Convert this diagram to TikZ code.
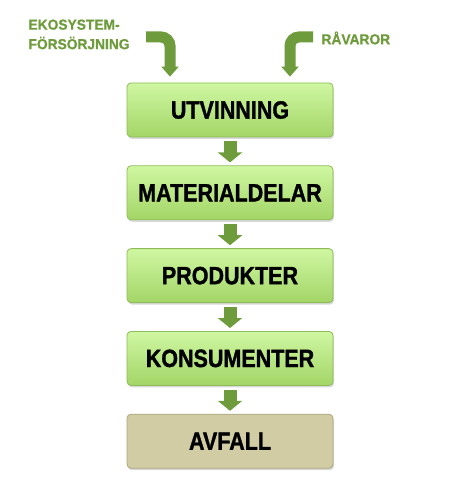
\documentclass[tikz,border=0pt]{standalone}
\usepackage{fontspec}
\setmainfont{Liberation Sans}
\newfontfamily\boxfont[FakeStretch=0.86, FakeBold=1.3]{Liberation Sans Bold}
\newfontfamily\labelfont[FakeStretch=0.95, FakeBold=0.8]{Liberation Sans Bold}
\usepackage{tikz}
\usetikzlibrary{arrows.meta, positioning, calc, shadows}
\definecolor{leafgreen}{HTML}{6E9C3C}
\definecolor{boxtop}{HTML}{CFF7A2}
\definecolor{boxbot}{HTML}{A3D567}
\definecolor{boxedge}{HTML}{8DBB58}
\definecolor{wastefill}{HTML}{D1CCA4}
\definecolor{wasteedge}{HTML}{ABA57D}

\begin{document}
\begin{tikzpicture}[
        x=1pt, y=-1pt,
        node distance=28pt,
        stage/.style={rectangle, rounded corners=4pt, draw=boxedge, line width=0.8pt,
            top color=boxtop, bottom color=boxbot, minimum width=206pt, minimum height=54pt,
            inner sep=0pt, font=\boxfont\fontsize{25}{25}\selectfont,
            drop shadow={shadow xshift=1pt, shadow yshift=-2pt, opacity=0.3}},
        waste/.style={stage, draw=wasteedge, top color=wastefill, bottom color=wastefill},
        flowarrow/.style={leafgreen, line width=13pt, shorten <=4pt, shorten >=3pt,
            -{Triangle[width=24pt, length=10pt]}},
        bentarrow/.style={leafgreen, line width=11pt, rounded corners=9pt,
            -{Triangle[width=17pt, length=10pt]}},
        input_label/.style={leafgreen, font=\labelfont\fontsize{14.5}{19.5}\selectfont, align=left}
    ]
        \useasboundingbox (0,0) rectangle (448,502);

        % Stegen i kedjan
        \node[stage] (ut) at (230,110) {UTVINNING};
        \node[stage, below=of ut] (mat) {MATERIALDELAR};
        \node[stage, below=of mat] (prod) {PRODUKTER};
        \node[stage, below=of prod] (kons) {KONSUMENTER};
        \node[waste, below=of kons] (avf) {AVFALL};

        % Pilar mellan stegen
        \foreach \a/\b in {ut/mat, mat/prod, prod/kons, kons/avf}
            \draw[flowarrow] (\a) -- (\b);

        % Insatser ovanifr\aa n
        \node[input_label, anchor=north west] (eko) at (25,16) {EKOSYSTEM-\\FÖRSÖRJNING};
        \node[input_label, anchor=north west] (rav) at (318,28) {RÅVAROR};
        \coordinate (eko-in) at (146,37);
        \coordinate (rav-in) at (313,37);
        \draw[bentarrow] (eko-in) -| ([xshift=-60pt, yshift=6pt]ut.north);
        \draw[bentarrow] (rav-in) -| ([xshift=60pt, yshift=6pt]ut.north);

    \end{tikzpicture}
\end{document}
